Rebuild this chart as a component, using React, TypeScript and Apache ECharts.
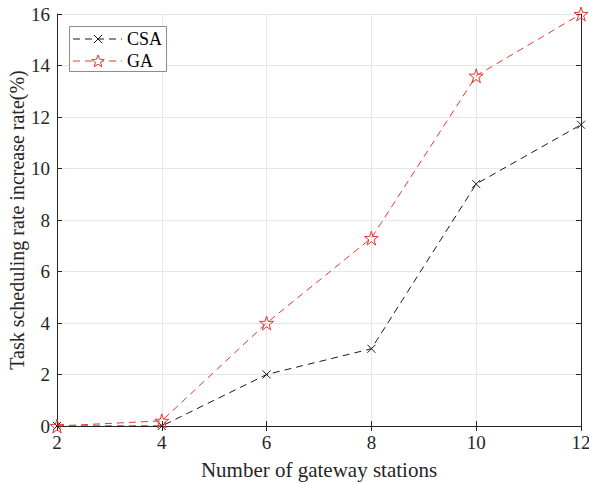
import React, { useEffect, useRef } from "react";
import * as echarts from "echarts";

const xValues = [2, 4, 6, 8, 10, 12];
const csaValues = [0, 0, 2, 3, 9.4, 11.7];
const gaValues = [0, 0.2, 4, 7.3, 13.6, 16];
const seriesNames = ["CSA", "GA"];

const FONT = "Liberation Serif";
const RED = "#e8352e";
const BLACK = "#1a1a1a";
const STAR =
  "path://M50,0 L61,35 L98,35 L68,57 L79,91 L50,70 L21,91 L32,57 L2,35 L39,35 Z";
const CROSS = "path://M0,0 L10,10 M10,0 L0,10";

function starPoints(cx: number, cy: number, r: number) {
  const pts: number[][] = [];
  for (let i = 0; i < 10; i++) {
    const rr = i % 2 === 0 ? r : r * 0.42;
    const a = -Math.PI / 2 + (i * Math.PI) / 5;
    pts.push([cx + rr * Math.cos(a), cy + rr * Math.sin(a)]);
  }
  return pts;
}

export default function App() {
  const ref = useRef<HTMLDivElement>(null);
  useEffect(() => {
    const chart = echarts.init(ref.current!, null, { renderer: "svg" });
    const axisCommon = {
      axisLine: { show: true, lineStyle: { color: "#262626", width: 1 } },
      axisTick: { show: true, inside: true, length: 5, lineStyle: { color: "#262626" } },
    };
    const labelStyle = {
      fontFamily: FONT,
      fontSize: 19,
      color: "#262626",
      margin: 7,
    };
    const lx = 69, ly = 26, lw = 97, lh = 45;
    const rows = [39, 61];
    const legendGraphics: any[] = [
      {
        type: "rect",
        shape: { x: lx + 0.5, y: ly + 0.5, width: lw, height: lh },
        style: { fill: "#fff", stroke: "#8c8c8c", lineWidth: 1 },
        z: 100,
      },
    ];
    seriesNames.forEach((name, i) => {
      const y = rows[i];
      const color = i === 0 ? BLACK : RED;
      legendGraphics.push({
        type: "line",
        shape: { x1: 73, y1: y, x2: 122, y2: y },
        style: { stroke: color, lineWidth: 1, lineDash: [7, 5] },
        z: 101,
      });
      if (i === 0) {
        legendGraphics.push(
          { type: "line", shape: { x1: 94, y1: y - 4, x2: 102, y2: y + 4 }, style: { stroke: color, lineWidth: 1 }, z: 102 },
          { type: "line", shape: { x1: 102, y1: y - 4, x2: 94, y2: y + 4 }, style: { stroke: color, lineWidth: 1 }, z: 102 }
        );
      } else {
        legendGraphics.push({
          type: "polygon",
          shape: { points: starPoints(98, y + 0.5, 6.5) },
          style: { fill: "#fff", stroke: color, lineWidth: 1 },
          z: 102,
        });
      }
      legendGraphics.push({
        type: "text",
        x: 127,
        y: y,
        style: { text: name, font: `18px '${FONT}'`, fill: "#000", verticalAlign: "middle" },
        z: 102,
      });
    });

    chart.setOption({
      animation: false,
      backgroundColor: "#fff",
      textStyle: { fontFamily: FONT },
      grid: { left: 57, right: 8, top: 14, bottom: 56, containLabel: false, outerBoundsMode: "none" },
      xAxis: [
        {
          type: "value",
          min: 2,
          max: 12,
          interval: 2,
          position: "bottom",
          ...axisCommon,
          axisLabel: labelStyle,
          splitLine: { show: true, lineStyle: { color: "#e6e6e6", width: 1 } },
          name: "Number of gateway stations",
          nameLocation: "middle",
          nameGap: 33,
          nameTextStyle: { fontFamily: FONT, fontSize: 21, color: "#262626" },
        },
        {
          type: "value",
          min: 2,
          max: 12,
          interval: 2,
          position: "top",
          ...axisCommon,
          axisLabel: { show: false },
          splitLine: { show: false },
        },
      ],
      yAxis: [
        {
          type: "value",
          min: 0,
          max: 16,
          interval: 2,
          position: "left",
          ...axisCommon,
          axisLabel: labelStyle,
          splitLine: { show: true, lineStyle: { color: "#e6e6e6", width: 1 } },
          name: "Task scheduling rate increase rate(%)",
          nameLocation: "middle",
          nameMoveOverlap: false,
          nameGap: 30,
          nameTextStyle: { fontFamily: FONT, fontSize: 20, color: "#262626" },
        },
        {
          type: "value",
          min: 0,
          max: 16,
          interval: 2,
          position: "right",
          ...axisCommon,
          axisLabel: { show: false },
          splitLine: { show: false },
        },
      ],
      graphic: legendGraphics,
      series: [
        {
          name: seriesNames[0],
          type: "line",
          data: xValues.map((x, i) => [x, csaValues[i]]),
          symbol: CROSS,
          symbolSize: 8,
          showAllSymbol: true,
          lineStyle: { color: BLACK, width: 1, type: [7, 5] },
          itemStyle: { color: "transparent", borderColor: BLACK, borderWidth: 1 },
          z: 3,
        },
        {
          name: seriesNames[1],
          type: "line",
          data: xValues.map((x, i) => [x, gaValues[i]]),
          symbol: STAR,
          symbolSize: 14,
          showAllSymbol: true,
          lineStyle: { color: RED, width: 1, type: [7, 5] },
          itemStyle: { color: "transparent", borderColor: RED, borderWidth: 1 },
          z: 4,
        },
      ],
    });
    return () => chart.dispose();
  }, []);
  return (
    <div
      ref={ref}
      style={{ position: "fixed", left: 0, top: 0, width: 589, height: 482 }}
    />
  );
}
